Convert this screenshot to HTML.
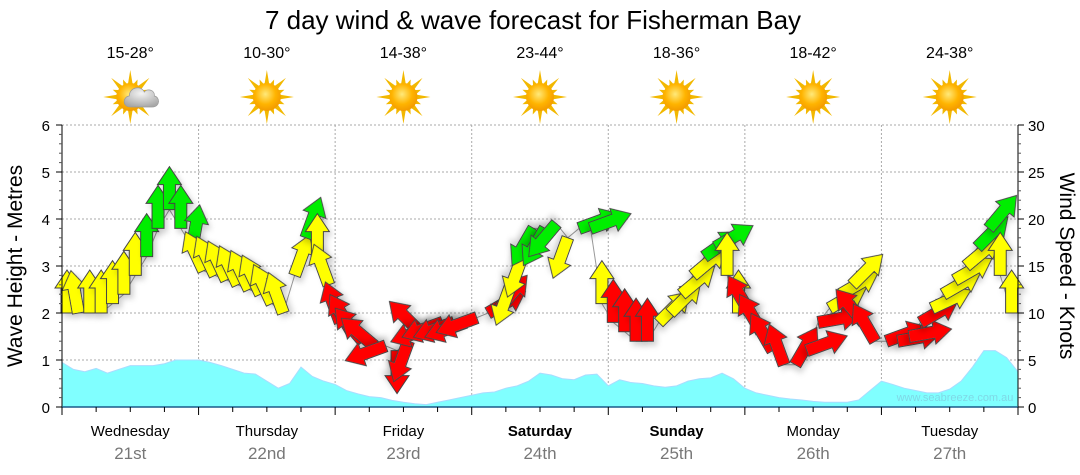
<!DOCTYPE html>
<html><head><meta charset="utf-8">
<style>
html,body{margin:0;padding:0;background:#fff;}
svg{display:block;font-family:"Liberation Sans",sans-serif;}
</style></head>
<body>
<svg id="chart" width="1080" height="475" viewBox="0 0 1080 475">
<defs>
<radialGradient id="sunG" cx="45%" cy="40%" r="60%">
<stop offset="0" stop-color="#ffe97a"/><stop offset="0.6" stop-color="#ffb400"/><stop offset="1" stop-color="#f39a00"/>
</radialGradient>
<radialGradient id="cloudG" cx="50%" cy="30%" r="70%">
<stop offset="0" stop-color="#f4f4f4"/><stop offset="1" stop-color="#a8a8a8"/>
</radialGradient>
<filter id="shadow" x="-30%" y="-30%" width="160%" height="160%">
<feDropShadow dx="3" dy="4" stdDeviation="3" flood-color="#000" flood-opacity="0.18"/>
</filter>
</defs>
<text x="533" y="29" font-size="26" text-anchor="middle" fill="#000">7 day wind &amp; wave forecast for Fisherman Bay</text>
<g id="grid"></g>
<g id="waves"></g>
<g id="wind"></g>
<g id="axes"></g>
<g id="days"></g>
<text x="955" y="401" font-size="11" fill="#7fd8e6" text-anchor="middle">www.seabreeze.com.au</text>
<text transform="translate(22,266) rotate(-90)" font-size="21" text-anchor="middle">Wave Height - Metres</text>
<text transform="translate(1060,266) rotate(90)" font-size="21" text-anchor="middle">Wind Speed - Knots</text>
</svg>
<script>
const dayNames=["Wednesday","Thursday","Friday","Saturday","Sunday","Monday","Tuesday"];
const dayDates=["21st","22nd","23rd","24th","25th","26th","27th"];
const dayBold=[false,false,false,true,true,false,false];
const temps=["15-28°","10-30°","14-38°","23-44°","18-36°","18-42°","24-38°"];
const cloudy=[true,false,false,false,false,false,false];
const waveTicks=[0,1,2,3,4,5,6];
const windTicks=[0,5,10,15,20,25,30];
const waveHeights=[0.95,0.8,0.75,0.82,0.72,0.8,0.88,0.88,0.88,0.92,1.0,1.0,1.0,0.95,0.88,0.8,0.72,0.7,0.55,0.4,0.5,0.85,0.65,0.55,0.48,0.35,0.28,0.22,0.2,0.14,0.1,0.07,0.05,0.1,0.15,0.2,0.25,0.3,0.32,0.4,0.45,0.55,0.72,0.68,0.6,0.58,0.68,0.7,0.45,0.58,0.52,0.5,0.45,0.42,0.45,0.55,0.6,0.62,0.72,0.6,0.4,0.3,0.25,0.2,0.17,0.15,0.12,0.1,0.1,0.1,0.15,0.35,0.55,0.48,0.4,0.35,0.3,0.3,0.38,0.55,0.85,1.2,1.2,1.05,0.75];
const windSpeed=[10,10,10,10,11,12,14,16,19,21,19,17,14.5,14,13.5,13,12.5,12,11,10,14,18,16,13,9,8,7,6.5,6.5,6,7,8,8.5,9,9,9,9.5,10,10.5,13,16,19,19,19.5,18,19,19,11,9,8,7,7,9,10,12,14,16,17,14,10,10,8,6,4.5,4.5,6,9,10.5,12,13,9,7,7,7,7.5,9,10.5,12,13.5,15,17,19,14,10];
const windDir=[0,-10,0,0,0,0,0,0,0,0,0,10,-25,-25,-25,-25,-25,-25,-25,-20,20,20,0,-20,-20,-30,-40,-50,250,180,200,-45,250,250,250,250,250,60,40,200,200,210,210,220,200,70,70,0,0,0,0,0,45,45,50,50,55,60,0,0,-30,-30,-30,-20,30,70,80,60,60,45,-40,-30,70,80,80,60,65,60,60,50,45,40,0,0];
const windColor=["y","y","y","y","y","y","y","g","g","g","g","g",
"y","y","y","y","y","y","y","y","y","g","y","y",
"r","r","r","r","r","r","r","r","r","r","r","r",
"r","r","r","y","y","g","g","g","y","g","g","y",
"r","r","r","r","y","y","y","y","g","g","y","y",
"r","r","r","r","r","r","r","y","y","y","r","r",
"r","r","r","r","y","y","y","y","g","g","y","y"];

const X0=62,X1=1018,Y0=407,Y1=125;
const dayW=(X1-X0)/7;
const step=dayW/12;
const xIdx=i=>X0+i*step;
const yWave=v=>Y0-(v/6)*(Y0-Y1);
const yWind=v=>Y0-(v/30)*(Y0-Y1);
const NS="http://www.w3.org/2000/svg";
function mk(tag,attrs,parent){const e=document.createElementNS(NS,tag);for(const k in attrs)e.setAttribute(k,attrs[k]);parent.appendChild(e);return e;}
const grid=document.getElementById('grid'),axes=document.getElementById('axes'),days=document.getElementById('days'),waves=document.getElementById('waves'),wind=document.getElementById('wind');

waveTicks.forEach(t=>{if(t===0)return;const y=yWave(t);
const l=mk('line',{x1:X0,x2:X1,y1:y,y2:y,stroke:'#aaa','stroke-dasharray':'2,2'},grid);

});
for(let d=1;d<7;d++){const x=X0+d*dayW;
const l=mk('line',{x1:x,x2:x,y1:Y1,y2:Y0,stroke:'#aaa','stroke-dasharray':'2,2'},grid);

}

let d='M'+xIdx(0)+','+Y0;
waveHeights.forEach((v,i)=>{d+=' L'+Math.min(xIdx(i),X1)+','+yWave(v);});
d+=' L'+X1+','+Y0+' Z';
const wa=mk('path',{d:d,fill:'#80ffff',stroke:'#a9dcff','stroke-width':1},waves);



let ld='';
windSpeed.forEach((v,i)=>{ld+=(i?' L':'M')+(xIdx(i)+5)+','+yWind(v);});
const wl=mk('path',{d:ld,fill:'none',stroke:'#999','stroke-width':1},wind);


const colors={r:'#ff0000',y:'#ffff00',g:'#00ee00'};
windSpeed.forEach((v,i)=>{
 const x=xIdx(i)+5,y=yWind(v);
 const a=mk('path',{d:'M-6,0 L-6,-25 L-12,-25 L0,-43 L12,-25 L6,-25 L6,0 Z',fill:colors[windColor[i]]||'#ff0',stroke:'#444','stroke-width':1,'stroke-linejoin':'miter',transform:'translate('+x+','+y+') rotate('+windDir[i]+')',filter:'url(#shadow)'},wind);
 
 
});

mk('line',{x1:X0,x2:X0,y1:Y1,y2:Y0,stroke:'#000'},axes);
mk('line',{x1:X1,x2:X1,y1:Y1,y2:Y0,stroke:'#000'},axes);
mk('line',{x1:X0,x2:X1,y1:Y0,y2:Y0,stroke:'#1a5a8a','stroke-width':1.5},axes);
waveTicks.forEach(t=>{const y=yWave(t);
 mk('line',{x1:X0-6,x2:X0,y1:y,y2:y,stroke:'#000'},axes);
 const tx=mk('text',{x:X0-12,y:y+6,'font-size':15,'text-anchor':'end'},axes);tx.textContent=t;
 
 
 if(t<6)for(let k=1;k<5;k++){const yy=yWave(t+k/5);mk('line',{x1:X0-3,x2:X0,y1:yy,y2:yy,stroke:'#555'},axes);}
});
windTicks.forEach(t=>{const y=yWind(t);
 mk('line',{x1:X1,x2:X1+6,y1:y,y2:y,stroke:'#000'},axes);
 const tx=mk('text',{x:X1+10,y:y+6,'font-size':15,'text-anchor':'start'},axes);tx.textContent=t;
 
 
 if(t<30)for(let k=1;k<5;k++){const yy=yWind(t+k);mk('line',{x1:X1,x2:X1+3,y1:yy,y2:yy,stroke:'#555'},axes);}
});
for(let k=0;k<=28;k++){const x=X0+k*dayW/4;mk('line',{x1:x,x2:x,y1:Y0,y2:Y0+(k%4===0?8:5),stroke:'#000'},axes);}

dayNames.forEach((n,i)=>{const cx=X0+dayW*(i+0.5);
 const t=mk('text',{x:cx,y:436,'font-size':15,'text-anchor':'middle','font-weight':dayBold[i]?'bold':'normal'},days);t.textContent=n;
 
 
 const t2=mk('text',{x:cx,y:459,'font-size':17,'text-anchor':'middle',fill:'#777'},days);t2.textContent=dayDates[i];
 
 
 const t3=mk('text',{x:cx,y:58,'font-size':16,'text-anchor':'middle'},days);t3.textContent=temps[i];
 
 
 const g=mk('g',{transform:'translate('+cx+',97)'},days);
 
 
 for(let r=0;r<16;r++){const ang=r*22.5,len=r%2?19:27;
  mk('path',{d:'M-2.5,-12 L0,-'+len+' L2.5,-12 Z',fill:'#f2b800',transform:'rotate('+ang+')'},g);}
 mk('circle',{cx:0,cy:0,r:14,fill:'url(#sunG)'},g);
 if(cloudy[i]){
  mk('path',{d:'M-8,12 C-16,12 -16,2 -9,1 C-9,-8 3,-10 6,-3 C9,-7 17,-5 16,1 C22,2 22,12 14,12 Z',fill:'url(#cloudG)',stroke:'#999','stroke-width':0.7,transform:'translate(8,-2)'},g);
 }
});
</script>
</body></html>
